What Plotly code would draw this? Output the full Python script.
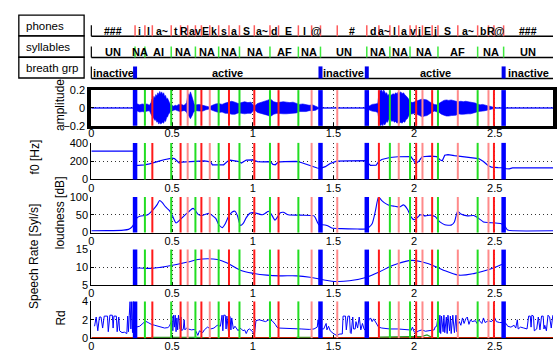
import plotly.graph_objects as go

W, H = 557, 360
X_LEFT, X_RIGHT = 89.3, 556.0          # pixel extent of the time axis
T_END = 2.861

FONT = "Liberation Sans, Arial, Helvetica, sans-serif"

# ---------------- segmentation tiers ----------------
phone_labels = ["###", "i", "l", "a~", "t", "R", "a", "v", "E", "k", "s", "a", "S", "a~", "d",
                "E", "l", "@", "_", "#", "d", "a~", "l", "a", "v", "j", "E", "j", "S", "a~",
                "b", "R", "@", "###"]
phone_bounds = [0.271, 0.332, 0.378, 0.495, 0.553, 0.597, 0.645, 0.682, 0.734, 0.789,
                0.853, 0.918, 1.010, 1.107, 1.160, 1.283, 1.365, 1.420, 1.524, 1.707,
                1.782, 1.850, 1.905, 1.975, 2.013, 2.052, 2.112, 2.148, 2.271, 2.394,
                2.461, 2.495, 2.555]

syl_labels = ["UN", "NA", "AI", "NA", "NA", "NA", "NA", "AF", "NA", "UN",
              "NA", "NA", "NA", "AF", "NA", "UN"]
syl_bounds = [0.271, 0.332, 0.495, 0.645, 0.789, 0.918, 1.107, 1.283, 1.420,
              1.707, 1.850, 1.975, 2.148, 2.394, 2.555]

breath_labels = ["inactive", "active", "inactive", "active", "inactive"]
breath_bounds = [0.271, 1.420, 1.707, 2.555]

# phone boundaries drawn in the paler red
faint_bounds = [0.597, 0.734, 1.365, 1.524, 1.905, 2.052, 2.271, 2.461]

# ---------------- waveform envelope (upper / lower) ----------------
wave_t = [0.00, 0.27,
          0.272, 0.285, 0.30, 0.315, 0.33, 0.345, 0.36,
          0.370, 0.376, 0.382, 0.388, 0.394, 0.400, 0.406, 0.412, 0.418, 0.424, 0.430,
          0.436, 0.442, 0.448, 0.454, 0.460, 0.466, 0.472, 0.478, 0.484, 0.490,
          0.50, 0.51, 0.52, 0.53, 0.54, 0.55, 0.56, 0.57, 0.58, 0.59,
          0.596, 0.602, 0.608, 0.614, 0.620, 0.626, 0.632, 0.638,
          0.65, 0.67, 0.69, 0.71, 0.73, 0.75, 0.77, 0.79, 0.81, 0.83, 0.85, 0.87, 0.89, 0.91,
          0.93, 0.95, 0.97, 0.99, 1.00, 1.01,
          1.03, 1.05, 1.07, 1.09, 1.11, 1.13, 1.15, 1.17, 1.19, 1.21, 1.23, 1.25, 1.27, 1.29,
          1.31, 1.33, 1.35, 1.37, 1.39, 1.40, 1.41,
          1.70, 1.72, 1.74, 1.76, 1.775, 1.782, 1.788, 1.794, 1.80, 1.806, 1.812, 1.818, 1.824,
          1.83, 1.836, 1.842, 1.848, 1.855, 1.862, 1.87,
          1.878, 1.886, 1.894, 1.902, 1.91, 1.918, 1.926, 1.934, 1.942, 1.95, 1.958, 1.966,
          1.975, 1.99, 2.005, 2.02, 2.035, 2.05, 2.065, 2.08, 2.095, 2.11,
          2.125, 2.14, 2.155, 2.17, 2.185, 2.20, 2.215, 2.23, 2.245, 2.26, 2.275, 2.29, 2.305,
          2.32, 2.335, 2.35, 2.365, 2.38, 2.395, 2.41, 2.425, 2.44, 2.455, 2.47, 2.485, 2.50,
          2.861]
wave_hi = [0.004, 0.004,
           0.03, 0.045, 0.035, 0.045, 0.04, 0.045, 0.03,
           0.06, 0.10, 0.08, 0.13, 0.11, 0.15, 0.13, 0.17, 0.15, 0.185, 0.16,
           0.18, 0.15, 0.17, 0.13, 0.14, 0.10, 0.11, 0.07, 0.06, 0.04,
           0.03, 0.02, 0.03, 0.025, 0.04, 0.035, 0.04, 0.03, 0.035, 0.06,
           0.12, 0.16, 0.14, 0.18, 0.15, 0.12, 0.07, 0.04,
           0.035, 0.04, 0.03, 0.02, 0.012, 0.03, 0.045, 0.05, 0.04, 0.055, 0.065, 0.075, 0.065, 0.05,
           0.06, 0.07, 0.06, 0.065, 0.04, 0.02,
           0.05, 0.06, 0.07, 0.085, 0.1, 0.07, 0.06, 0.065, 0.07, 0.065, 0.06, 0.065, 0.055, 0.04,
           0.045, 0.035, 0.03, 0.035, 0.025, 0.012, 0.004,
           0.004, 0.02, 0.04, 0.045, 0.05, 0.15, 0.2, 0.19, 0.2, 0.17, 0.2, 0.18, 0.16,
           0.17, 0.14, 0.15, 0.12, 0.14, 0.15, 0.16,
           0.15, 0.17, 0.16, 0.18, 0.17, 0.18, 0.16, 0.17, 0.15, 0.14, 0.12, 0.1,
           0.07, 0.06, 0.07, 0.075, 0.09, 0.1, 0.095, 0.09, 0.07, 0.05,
           0.04, 0.035, 0.05, 0.07, 0.085, 0.09, 0.085, 0.09, 0.08, 0.075, 0.07, 0.075, 0.07,
           0.075, 0.07, 0.065, 0.06, 0.055, 0.04, 0.035, 0.04, 0.03, 0.025, 0.02, 0.012, 0.004,
           0.004]
wave_lo = [-0.004, -0.004,
           -0.03, -0.035, -0.045, -0.04, -0.045, -0.035, -0.03,
           -0.07, -0.09, -0.11, -0.12, -0.14, -0.13, -0.16, -0.15, -0.18, -0.16, -0.18,
           -0.17, -0.16, -0.17, -0.14, -0.15, -0.11, -0.10, -0.07, -0.06, -0.04,
           -0.03, -0.025, -0.02, -0.03, -0.035, -0.04, -0.035, -0.03, -0.03, -0.05,
           -0.07, -0.09, -0.1, -0.12, -0.1, -0.08, -0.05, -0.04,
           -0.03, -0.035, -0.035, -0.02, -0.012, -0.025, -0.04, -0.05, -0.045, -0.06, -0.06, -0.07, -0.07, -0.055,
           -0.06, -0.065, -0.06, -0.06, -0.04, -0.02,
           -0.05, -0.065, -0.07, -0.08, -0.095, -0.07, -0.06, -0.06, -0.065, -0.065, -0.06, -0.06, -0.055, -0.04,
           -0.04, -0.04, -0.03, -0.03, -0.025, -0.012, -0.004,
           -0.004, -0.02, -0.035, -0.04, -0.05, -0.12, -0.19, -0.2, -0.18, -0.2, -0.17, -0.19, -0.17,
           -0.15, -0.16, -0.13, -0.14, -0.13, -0.15, -0.14,
           -0.16, -0.15, -0.17, -0.16, -0.17, -0.16, -0.17, -0.15, -0.16, -0.13, -0.12, -0.09,
           -0.07, -0.065, -0.06, -0.075, -0.085, -0.1, -0.09, -0.085, -0.07, -0.05,
           -0.035, -0.04, -0.05, -0.07, -0.08, -0.09, -0.09, -0.085, -0.08, -0.08, -0.065, -0.07, -0.07,
           -0.07, -0.065, -0.065, -0.06, -0.05, -0.04, -0.035, -0.035, -0.03, -0.025, -0.02, -0.012, -0.004,
           -0.004]

# ---------------- f0 [Hz] ----------------
f0_t = [0.0, 0.268, 0.272, 0.30, 0.33, 0.36, 0.39, 0.42, 0.45, 0.48, 0.50, 0.515, 0.53, 0.545,
        0.56, 0.60, 0.64, 0.68, 0.70, 0.72, 0.74, 0.75, 0.78, 0.82, 0.845, 0.86, 0.88, 0.90,
        0.915, 0.93, 0.945, 0.96, 1.0, 1.01, 1.03, 1.06, 1.09, 1.11, 1.125, 1.14, 1.155, 1.17,
        1.2, 1.25, 1.27, 1.3, 1.35, 1.40, 1.42, 1.45, 1.48, 1.52, 1.6, 1.70, 1.71, 1.73, 1.765,
        1.78, 1.80, 1.85, 1.9, 1.95, 1.98, 1.995, 2.01, 2.03, 2.05, 2.1, 2.14, 2.16, 2.175,
        2.19, 2.21, 2.25, 2.3, 2.35, 2.40, 2.43, 2.46, 2.48, 2.52, 2.56, 2.57, 2.59, 2.61, 2.861]
f0_hz = [310, 310, 152, 152, 160, 170, 182, 200, 215, 230, 233, 228, 200, 180,
         190, 195, 196, 198, 202, 198, 190, 160, 158, 160, 200, 210, 205, 202,
         195, 180, 200, 212, 214, 205, 195, 193, 195, 195, 165, 160, 185, 192,
         195, 196, 198, 185, 155, 125, 122, 140, 175, 200, 203, 205, 185, 153, 155,
         195, 218, 240, 248, 252, 250, 215, 172, 200, 248, 255, 250, 215, 205,
         265, 272, 260, 245, 238, 228, 195, 150, 135, 130, 128, 118, 116, 127, 127]

# ---------------- loudness [dB] ----------------
loud_t = [0.0, 0.1, 0.2, 0.23, 0.25, 0.27, 0.28, 0.30, 0.33, 0.35, 0.37, 0.39, 0.41, 0.423,
          0.44, 0.46, 0.484, 0.50, 0.525, 0.55, 0.57, 0.597, 0.63, 0.645, 0.66, 0.68, 0.70,
          0.73, 0.75, 0.771, 0.79, 0.812, 0.83, 0.85, 0.873, 0.89, 0.905, 0.924, 0.94, 0.96,
          0.985, 1.0, 1.026, 1.06, 1.08, 1.098, 1.115, 1.138, 1.155, 1.169, 1.19, 1.22, 1.3,
          1.38, 1.39, 1.41, 1.43, 1.46, 1.49, 1.55, 1.65, 1.70, 1.72, 1.74, 1.76, 1.78, 1.80,
          1.83, 1.85, 1.88, 1.91, 1.935, 1.96, 1.98, 2.0, 2.02, 2.04, 2.07, 2.1, 2.13, 2.16,
          2.19, 2.23, 2.25, 2.27, 2.29, 2.33, 2.37, 2.40, 2.43, 2.46, 2.5, 2.54, 2.56, 2.58,
          2.62, 2.861]
loud_db = [5, 5.5, 7, 9, 15, 30, 40, 46, 48, 50, 58, 68, 80, 90,
           84, 72, 62, 50, 27, 36, 45, 56, 68, 62, 52, 48, 50,
           54, 48, 40, 22, 14, 25, 45, 58, 60, 48, 20, 25, 42,
           55, 56, 54, 50, 55, 60, 52, 35, 45, 55, 57, 50, 49,
           47, 40, 22, 22, 20, 13, 11, 10, 10, 15, 25, 60, 100, 90,
           80, 76, 74, 72, 78, 65, 45, 36, 42, 50, 47, 49, 45, 30,
           22, 21, 30, 60, 52, 47, 48, 40, 30, 28, 27, 25, 20, 7,
           5, 5]

# ---------------- speech rate [Syl/s] ----------------
rate_t = [0.271, 0.30, 0.372, 0.43, 0.495, 0.597, 0.66, 0.72, 0.781, 0.842, 0.924, 1.005,
          1.088, 1.169, 1.273, 1.355, 1.436, 1.518, 1.60, 1.707, 1.784, 1.866, 1.968, 2.01,
          2.09, 2.172, 2.275, 2.376, 2.478, 2.555]
rate_sps = [9.8, 9.8, 9.7, 10.0, 10.5, 11.5, 12.2, 12.4, 12.2, 11.2, 9.2, 8.3,
            7.8, 7.6, 7.6, 7.2, 6.5, 6.0, 6.2, 7.2, 8.7, 10.5, 11.9, 11.9,
            11.0, 9.4, 7.8, 8.3, 9.6, 11.0]

# ---------------- Rd ----------------
rd_t = [0.02, 0.03, 0.04, 0.05, 0.06, 0.07, 0.08, 0.10, 0.105, 0.115, 0.13, 0.135, 0.14, 0.155,
        0.16, 0.17, 0.175, 0.185, 0.19, 0.205, 0.215, 0.22, 0.225, 0.23, 0.235, 0.24, 0.245,
        0.25, 0.255, 0.26, 0.265, 0.279, 0.30, 0.32, 0.335, 0.352, 0.372, 0.393, 0.413, 0.434,
        0.454, 0.474, 0.484, 0.495, 0.50, 0.505, 0.51, 0.515, 0.52, 0.525, 0.53, 0.535, 0.54,
        0.55, 0.555, 0.56, 0.57, 0.575, 0.58, 0.59, 0.60, 0.62, 0.64, 0.65, 0.66, 0.67, 0.68,
        0.69, 0.70, 0.72, 0.74, 0.76, 0.78, 0.80, 0.81, 0.815, 0.82, 0.83, 0.835, 0.84, 0.85,
        0.855, 0.86, 0.865, 0.87, 0.88, 0.89, 0.90, 0.91, 0.92, 0.93, 0.94, 0.95, 0.96, 0.97,
        0.98, 0.99, 1.00, 1.01, 1.02, 1.04, 1.06, 1.08, 1.10, 1.12, 1.14, 1.15, 1.16, 1.20,
        1.25, 1.30, 1.35, 1.38, 1.40, 1.405, 1.41, 1.415, 1.42, 1.44, 1.455, 1.46, 1.47, 1.48,
        1.50, 1.52, 1.54, 1.555, 1.56, 1.575, 1.58, 1.59, 1.60, 1.605, 1.61, 1.62, 1.625, 1.635,
        1.64, 1.65, 1.66, 1.67, 1.68, 1.69, 1.70, 1.72, 1.73, 1.74, 1.75, 1.77, 1.78, 1.80,
        1.85, 1.90, 1.95, 1.97, 1.98, 1.99, 2.00, 2.01, 2.03, 2.05, 2.07, 2.09, 2.11, 2.125,
        2.13, 2.14, 2.15, 2.155, 2.16, 2.165, 2.17, 2.18, 2.185, 2.19, 2.20, 2.205, 2.21, 2.22,
        2.225, 2.23, 2.24, 2.245, 2.25, 2.26, 2.265, 2.27, 2.28, 2.29, 2.30, 2.31, 2.32, 2.33,
        2.34, 2.35, 2.36, 2.38, 2.39, 2.40, 2.42, 2.43, 2.44, 2.46, 2.48, 2.50, 2.51, 2.53,
        2.55, 2.57, 2.58, 2.60, 2.62, 2.63, 2.64, 2.645, 2.66, 2.68, 2.70, 2.71, 2.72, 2.725,
        2.73, 2.74, 2.745, 2.76, 2.77, 2.78, 2.79, 2.80, 2.805, 2.81, 2.82, 2.83, 2.84, 2.85,
        2.86]
rd_v = [1.3, 2.3, 0.8, 2.3, 2.3, 1.1, 2.4, 2.4, 0.7, 2.5, 2.5, 1.1, 2.4, 2.4,
        0.7, 2.3, 0.8, 0.7, 0.6, 0.65, 0.6, 0.5, 2.4, 0.7, 2.5, 4.0, 1.0,
        4.0, 0.6, 4.0, 0.5, 1.2, 1.3, 1.6, 1.85, 1.7, 1.5, 1.4, 1.3, 1.15,
        1.1, 1.15, 1.3, 1.8, 2.4, 0.8, 2.5, 1.2, 2.5, 0.7, 2.2, 0.9, 2.5,
        1.0, 2.3, 0.8, 1.0, 2.0, 0.9, 1.1, 1.0, 0.9, 0.95, 0.7, 0.3, 0.8, 0.7,
        0.6, 0.9, 1.2, 1.0, 1.1, 1.4, 1.3, 2.5, 0.8, 2.5, 2.5, 1.0, 2.4, 0.7,
        2.5, 2.3, 0.9, 2.2, 1.0, 1.3, 1.0, 0.8, 1.1, 1.0, 0.8, 0.9, 0.5, 0.9,
        1.0, 0.8, 0.7, 0.3, 1.9, 2.0, 1.9, 1.8, 2.0, 1.9, 1.5, 1.2, 1.1, 1.05,
        1.0, 1.0, 0.95, 1.0, 1.2, 2.0, 1.5, 2.6, 1.0, 1.0, 1.6, 0.9, 1.3, 0.8,
        0.5, 0.3, 0.45, 0.45, 2.4, 2.4, 0.9, 2.4, 2.4, 0.6, 0.5, 2.3, 1.0, 1.0,
        1.8, 1.1, 2.3, 0.9, 1.6, 1.0, 0.8, 2.0, 2.2, 1.8, 2.1, 1.5, 1.2, 1.1,
        1.0, 1.0, 0.95, 0.9, 0.8, 1.2, 0.7, 0.6, 0.8, 0.9, 0.75, 0.8, 0.85, 0.9,
        1.2, 1.3, 2.5, 0.6, 2.5, 0.5, 2.4, 0.7, 2.5, 0.6, 2.3, 0.5, 2.5, 0.8,
        2.4, 0.5, 2.5, 0.9, 0.6, 2.5, 0.7, 1.5, 1.8, 1.4, 2.2, 1.6, 2.1, 2.3,
        1.5, 2.0, 1.8, 1.9, 1.6, 2.0, 1.6, 2.2, 1.7, 1.9, 1.8, 2.2, 1.8, 1.7,
        1.7, 1.6, 1.3, 1.2, 1.4, 1.1, 2.0, 1.0, 1.2, 1.1, 1.0, 2.4, 2.4, 1.2,
        2.5, 2.4, 0.8, 1.0, 2.3, 0.9, 2.4, 2.4, 1.0, 1.4, 0.8, 2.5, 2.3, 1.1,
        2.5]
rd_floor_t = [0.0, T_END]
rd_floor_v = [0.0, 0.0]
rd_low_t = [0.37, 0.45, 0.55, 0.65, 0.70, None, 1.27, 1.32, 1.37, None,
            1.78, 1.85, 1.92, 1.97, 2.05, 2.08, 2.11]
rd_low_v = [0.08, 0.12, 0.10, 0.08, 0.05, None, 0.10, 0.12, 0.10, None,
            0.12, 0.15, 0.10, 0.18, 0.20, 0.35, 0.10]

x_ticks = [0, 0.5, 1, 1.5, 2, 2.5]

# panel layout: (y-range, y tick values, pixel bottom, pixel top)
panels = [
    ([-0.2, 0.2], [-0.2, 0, 0.2], 124.0, 87.0),
    ([0, 400], [0, 200, 400], 179.4, 141.6),
    ([0, 100], [0, 50, 100], 234.4, 197.6),
    ([5, 15], [5, 10, 15], 288.7, 252.0),
    ([0, 4], [0, 2, 4], 343.6, 305.6),
]


def xp(p):
    return p / W


def yp(p):
    return 1 - p / H


fig = go.Figure()

BLUE = "#0000ff"

# waveform polygon
fig.add_trace(go.Scatter(x=wave_t + wave_t[::-1], y=wave_hi + wave_lo[::-1],
                         fill="toself", fillcolor=BLUE, mode="lines",
                         line=dict(color=BLUE, width=0.6), xaxis="x", yaxis="y",
                         hoverinfo="skip"))
fig.add_trace(go.Scatter(x=f0_t, y=f0_hz, mode="lines", line=dict(color=BLUE, width=1.2),
                         xaxis="x2", yaxis="y2"))
fig.add_trace(go.Scatter(x=loud_t, y=loud_db, mode="lines",
                         line=dict(color=BLUE, width=1.1, shape="spline", smoothing=0.6),
                         xaxis="x3", yaxis="y3"))
fig.add_trace(go.Scatter(x=rate_t, y=rate_sps, mode="lines",
                         line=dict(color=BLUE, width=1.1, shape="spline", smoothing=1.0),
                         xaxis="x4", yaxis="y4"))
fig.add_trace(go.Scatter(x=rd_floor_t, y=rd_floor_v, mode="lines",
                         line=dict(color="#c42200", width=2.5), xaxis="x5", yaxis="y5"))
fig.add_trace(go.Scatter(x=rd_low_t, y=rd_low_v, mode="lines",
                         line=dict(color="#2a9a2a", width=1.2), xaxis="x5", yaxis="y5"))
fig.add_trace(go.Scatter(x=rd_t, y=rd_v, mode="lines", line=dict(color=BLUE, width=1.0),
                         xaxis="x5", yaxis="y5"))

shapes = []
annotations = []

# boundary lines through every panel
RED, PALE_RED, GREEN = "#ff1a1a", "#ff8a8a", "#22dd22"
for i in range(1, 6):
    xr = "x" if i == 1 else f"x{i}"
    yr = "y domain" if i == 1 else f"y{i} domain"
    for b in phone_bounds:
        if b in breath_bounds or b in syl_bounds:
            continue
        col = PALE_RED if b in faint_bounds else RED
        shapes.append(dict(type="line", xref=xr, yref=yr, x0=b, x1=b, y0=0, y1=1,
                           line=dict(color=col, width=2), layer="above"))
    for b in syl_bounds:
        if b in breath_bounds:
            continue
        shapes.append(dict(type="line", xref=xr, yref=yr, x0=b, x1=b, y0=0, y1=1,
                           line=dict(color=GREEN, width=2), layer="above"))
    for b in breath_bounds:
        shapes.append(dict(type="line", xref=xr, yref=yr, x0=b, x1=b, y0=0, y1=1,
                           line=dict(color=BLUE, width=4.5), layer="above"))

# annotation tiers above the panels: (bounds, labels, line colour, width, top, base, text y)
tiers = [
    (phone_bounds, phone_labels, "#ff5c5c", 1.5, 20.0, 31.3, 25.5),
    (syl_bounds, syl_labels, "#3ee83e", 1.5, 42.0, 53.3, 47.5),
    (breath_bounds, breath_labels, "#0000ee", 4.0, 62.5, 75.0, 69.0),
]
for bounds, labels, col, lw, top, base, ty in tiers:
    shapes.append(dict(type="line", xref="paper", yref="paper", x0=xp(X_LEFT), x1=xp(X_RIGHT),
                       y0=yp(base), y1=yp(base), line=dict(color="black", width=1.5)))
    shapes.append(dict(type="line", xref="paper", yref="paper", x0=xp(X_LEFT), x1=xp(X_LEFT),
                       y0=yp(top), y1=yp(base), line=dict(color="black", width=1.2)))
    for b in bounds:
        shapes.append(dict(type="line", xref="x", yref="paper", x0=b, x1=b,
                           y0=yp(top), y1=yp(base), line=dict(color=col, width=lw)))
    edges = [0.0] + bounds + [T_END]
    size = 10.5 if labels is phone_labels else 11
    for k, lab in enumerate(labels):
        annotations.append(dict(x=(edges[k] + edges[k + 1]) / 2, y=yp(ty), xref="x", yref="paper",
                                text=f"<b>{lab}</b>", showarrow=False, xanchor="center",
                                yanchor="middle", font=dict(family=FONT, size=size, color="black")))

# tier name boxes
for name, top, bot in [("phones", 9.5, 31.0), ("syllables", 31.0, 53.0), ("breath grp", 53.0, 74.5)]:
    shapes.append(dict(type="rect", xref="paper", yref="paper", x0=xp(16), x1=xp(82),
                       y0=yp(bot), y1=yp(top), line=dict(color="black", width=1.3)))
    annotations.append(dict(x=xp(21), y=yp((top + bot) / 2), xref="paper", yref="paper",
                            text=name, showarrow=False, xanchor="left", yanchor="middle",
                            font=dict(family=FONT, size=11.5, color="black")))

# y-axis titles
for text, x, y in [("amplitude", 57, 102), ("f0 [Hz]", 32, 156), ("loudness [dB]", 57, 214),
                   ("Speech Rate [Syl/s]", 32, 259), ("Rd", 59, 323)]:
    annotations.append(dict(x=xp(x), y=yp(y), xref="paper", yref="paper", text=text,
                            textangle=-90, showarrow=False, xanchor="center", yanchor="middle",
                            font=dict(family=FONT, size=12, color="black")))

layout = dict(width=W, height=H, margin=dict(l=0, r=0, t=0, b=0),
              paper_bgcolor="white", plot_bgcolor="white", showlegend=False,
              shapes=shapes, annotations=annotations, font=dict(family=FONT, size=11, color="black"))

common = dict(showline=True, linecolor="black", ticks="inside", ticklen=3, tickcolor="black",
              showgrid=True, gridcolor="#333333", griddash="1px,3px", gridwidth=1,
              zeroline=False, tickfont=dict(family=FONT, size=11, color="black"))

for i, (yrange, yticks, pbot, ptop) in enumerate(panels, start=1):
    sx = "" if i == 1 else str(i)
    xa = dict(common, domain=[xp(X_LEFT), xp(X_RIGHT)], range=[0, T_END], tickvals=x_ticks,
              anchor="y" + sx, linewidth=1.2, ticklabelstandoff=-2)
    ya = dict(common, domain=[yp(pbot), yp(ptop)], range=yrange, tickvals=yticks,
              anchor="x" + sx, linewidth=1.2)
    if i == 1:
        xa.update(mirror=True, linewidth=2.5, ticklabelstandoff=-5)
        ya.update(mirror=True, linewidth=4)
    layout["xaxis" + sx] = xa
    layout["yaxis" + sx] = ya

fig.update_layout(**layout)
fig.write_html("out.html")
